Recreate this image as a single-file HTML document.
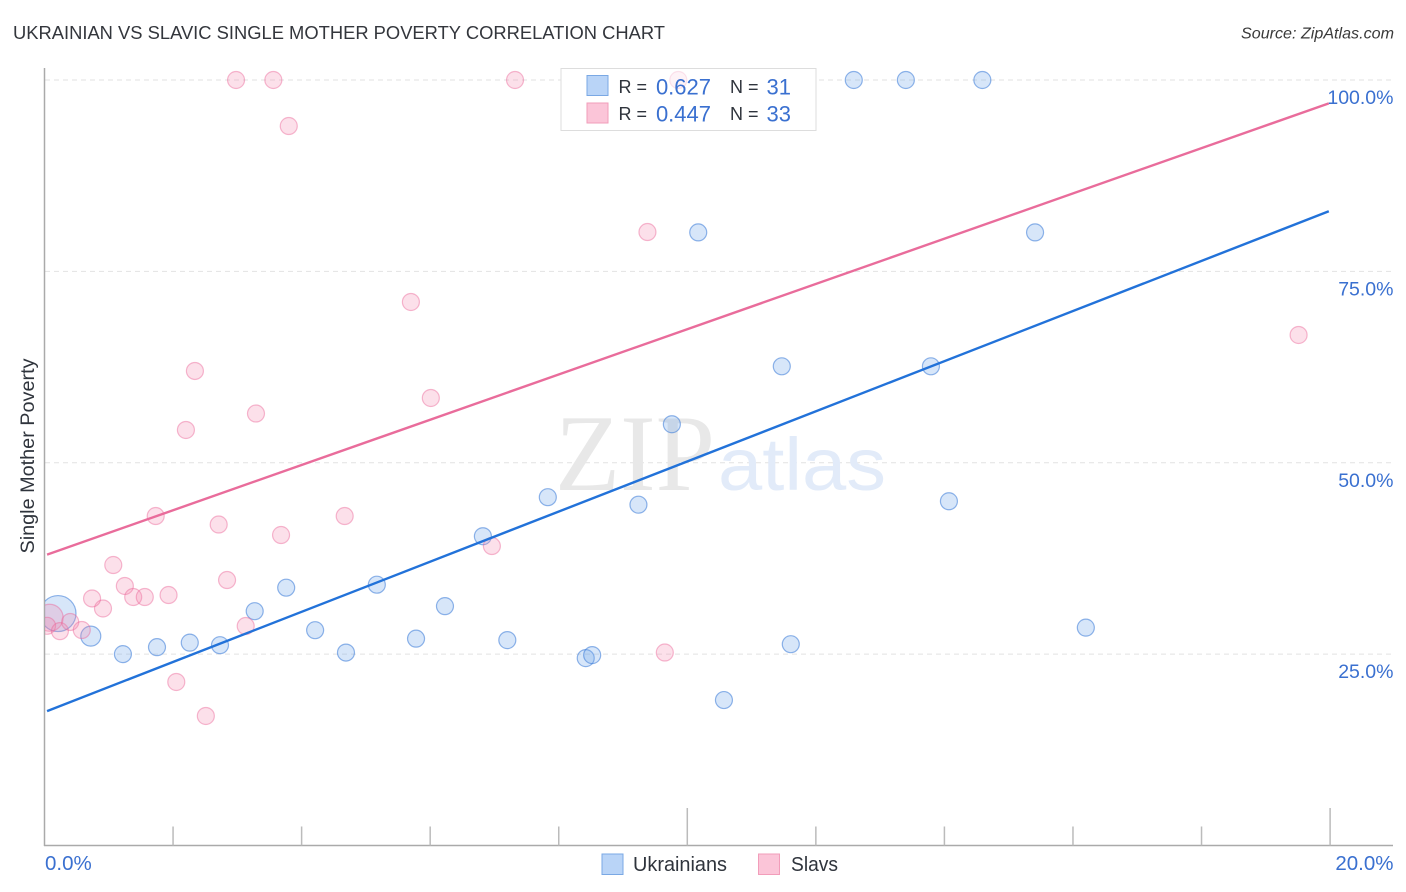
<!DOCTYPE html>
<html lang="en">
<head>
<meta charset="utf-8">
<title>Ukrainian vs Slavic Single Mother Poverty Correlation Chart</title>
<style>
html,body{margin:0;padding:0;background:#fff;width:1406px;height:892px;overflow:hidden}
svg{display:block;font-family:"Liberation Sans",sans-serif}
.blue{fill:#3a70d0}
.dark{fill:#2f343c}
</style>
</head>
<body>
<svg id="chart" width="1406" height="892" viewBox="0 0 1406 892" xmlns="http://www.w3.org/2000/svg">
  <defs>
    <clipPath id="plot-clip"><rect x="45" y="60" width="1360" height="786"/></clipPath>
  </defs>
  <rect x="0" y="0" width="1406" height="892" fill="#ffffff"/>
  <text x="13" y="39" font-size="18.5" fill="#33363c" textLength="652" lengthAdjust="spacingAndGlyphs">UKRAINIAN VS SLAVIC SINGLE MOTHER POVERTY CORRELATION CHART</text>
  <text x="1394" y="38.5" font-size="16" font-style="italic" fill="#3a3a3a" text-anchor="end" textLength="153" lengthAdjust="spacingAndGlyphs">Source: ZipAtlas.com</text>

  <g id="grid"></g>
  <rect x="561" y="68.5" width="255" height="62" fill="#ffffff"/>

  <g>
    <text x="555" y="490" font-family="'Liberation Serif',serif" font-size="109" fill="#e8e8e8" textLength="160" lengthAdjust="spacingAndGlyphs">ZIP</text>
    <text x="718" y="490" font-size="74" fill="#e2ebf9" textLength="168" lengthAdjust="spacingAndGlyphs">atlas</text>
  </g>

  <g id="axes">
    <line x1="44.5" y1="68" x2="44.5" y2="846" stroke="#aaaaaa" stroke-width="1.5"/>
    <line x1="44" y1="845.5" x2="1393" y2="845.5" stroke="#aaaaaa" stroke-width="1.5"/>
  </g>

  <g id="points" clip-path="url(#plot-clip)"></g>
  <g id="trends"></g>
  <g id="labels"></g>

  <text transform="translate(34 456) rotate(-90)" font-size="19" fill="#2f343c" text-anchor="middle" textLength="195" lengthAdjust="spacingAndGlyphs">Single Mother Poverty</text>

  <g>
    <rect x="561" y="68.5" width="255" height="62" fill="#ffffff" fill-opacity="0.6" stroke="#dddddd" stroke-width="1"/>
    <rect x="587" y="75.5" width="21" height="20" fill="#b9d4f7" stroke="#7aa8e4" stroke-width="1"/>
    <rect x="587" y="103" width="21" height="20" fill="#fbc5d8" stroke="#f29dba" stroke-width="1"/>
    <text class="dark" x="618.5" y="93" font-size="18">R =</text>
    <text class="blue" x="711" y="94.5" font-size="22" text-anchor="end">0.627</text>
    <text class="dark" x="730" y="93" font-size="18">N =</text>
    <text class="blue" x="791" y="94.5" font-size="22" text-anchor="end">31</text>
    <text class="dark" x="618.5" y="120" font-size="18">R =</text>
    <text class="blue" x="711" y="121.5" font-size="22" text-anchor="end">0.447</text>
    <text class="dark" x="730" y="120" font-size="18">N =</text>
    <text class="blue" x="791" y="121.5" font-size="22" text-anchor="end">33</text>
  </g>

  <g>
    <rect x="602" y="854" width="21" height="20.5" fill="#b9d4f7" stroke="#7aa8e4" stroke-width="1"/>
    <text class="dark" x="633" y="871" font-size="20" textLength="94" lengthAdjust="spacingAndGlyphs">Ukrainians</text>
    <rect x="758.5" y="854" width="21" height="20.5" fill="#fbc5d8" stroke="#f29dba" stroke-width="1"/>
    <text class="dark" x="791" y="871" font-size="20" textLength="47" lengthAdjust="spacingAndGlyphs">Slavs</text>
  </g>
</svg>
<script>
const yGridValues = [25, 50, 75, 100];
const yTickLabels = ["25.0%", "50.0%", "75.0%", "100.0%"];
const xTickValues = [0, 2, 4, 6, 8, 10, 12, 14, 16, 18, 20];
const xMajorTicks = [10, 20];
const xEndValues = [0, 20];
const xEndLabels = ["0.0%", "20.0%"];

const ukrainiansX = [0.21,0.72,1.22,1.75,2.26,2.73,3.27,3.76,4.21,4.69,5.17,5.78,6.23,6.82,7.20,7.83,8.42,8.52,9.24,9.76,10.17,10.57,11.47,11.61,12.59,13.40,13.79,14.07,14.59,15.41,16.20];
const ukrainiansY = [30.3,27.35,25.0,25.91,26.5,26.17,30.61,33.68,28.13,25.2,34.07,27.02,31.27,40.4,26.83,45.5,24.48,24.87,44.52,55.03,80.09,19.0,62.6,26.3,100,100,62.6,44.97,100,80.09,28.46];
const ukrainiansWeight = [18.5,10.5,9,9,9,9,9,9,9,9,9,9,9,9,9,9,9,9,9,9,9,9,9,9,9,9,9,9,9,9,9];

const slavsX = [0.08,0.04,0.24,0.40,0.58,0.91,0.74,1.07,1.25,1.38,1.56,1.93,2.84,3.13,2.05,2.51,1.73,2.71,3.68,4.67,2.20,2.34,3.29,5.70,6.01,6.96,9.38,9.65,2.98,3.56,3.80,7.32,9.86,19.51];
const slavsY = [29.75,28.7,28.0,29.2,28.15,30.96,32.27,36.64,33.9,32.46,32.46,32.72,34.68,28.67,21.36,16.92,43.04,41.93,40.56,43.04,54.28,61.99,56.43,71.0,58.46,39.12,80.14,25.21,100,100,93.99,100,100,66.69];
const slavsWeight = [14,9,9,9,9,9,9,9,9,9,9,9,9,9,9,9,9,9,9,9,9,9,9,9,9,9,9,9,9,9,9,9,9,9];

const trendX = [0.04, 19.98];
const ukrainiansTrend = [17.56, 82.85];
const slavsTrend = [38.0, 96.95];

const SVGNS = "http://www.w3.org/2000/svg";
const xScale = v => 44.5 + v * 64.28;
const yScale = v => 845.5 - v * 7.655;

function make(tag, attrs, parent) {
  const el = document.createElementNS(SVGNS, tag);
  for (const k in attrs) el.setAttribute(k, attrs[k]);
  parent.appendChild(el);
  return el;
}

const gridG = document.getElementById("grid");
yGridValues.forEach(v => {
  const el = make("line", {x1: 45, x2: 1393, y1: yScale(v), y2: yScale(v), stroke: "#e2e2e2", "stroke-width": 1, "stroke-dasharray": "5 4"}, gridG);
  
  
});

const axesG = document.getElementById("axes");
xTickValues.forEach(v => {
  if (v === 0) return;
  const top = xMajorTicks.includes(v) ? 808 : 826.5;
  const el = make("line", {x1: xScale(v), x2: xScale(v), y1: top, y2: 845.5, stroke: "#bbbbbb", "stroke-width": 1.5}, axesG);
  
  
});

const labelsG = document.getElementById("labels");
yTickLabels.forEach((t, i) => {
  const el = make("text", {x: 1393.5, y: yScale(yGridValues[i]) + 24, "font-size": 19.5, "text-anchor": "end", class: "blue"}, labelsG);
  el.textContent = t;
  
  
});
xEndLabels.forEach((t, i) => {
  const el = make("text", {x: i === 0 ? xScale(xEndValues[i]) + 0.5 : 1393.5, y: 870, "font-size": 20.5, "text-anchor": i === 0 ? "start" : "end", class: "blue"}, labelsG);
  el.textContent = t;
  
  
});

const pointsG = document.getElementById("points");
ukrainiansX.forEach((x, i) => {
  const el = make("circle", {cx: xScale(x), cy: yScale(ukrainiansY[i]), r: ukrainiansWeight[i] - 0.5, fill: "rgba(110,165,235,0.28)", stroke: "rgba(55,120,215,0.55)", "stroke-width": 1.2}, pointsG);
  
  
});
slavsX.forEach((x, i) => {
  const el = make("circle", {cx: xScale(x), cy: yScale(slavsY[i]), r: slavsWeight[i] - 0.5, fill: "rgba(245,130,170,0.25)", stroke: "rgba(235,100,150,0.45)", "stroke-width": 1.2}, pointsG);
  
  
});

const trendsG = document.getElementById("trends");
const blueLine = make("line", {x1: xScale(trendX[0]), y1: yScale(ukrainiansTrend[0]), x2: xScale(trendX[1]), y2: yScale(ukrainiansTrend[1]), stroke: "#2272d9", "stroke-width": 2.4}, trendsG);


const pinkLine = make("line", {x1: xScale(trendX[0]), y1: yScale(slavsTrend[0]), x2: xScale(trendX[1]), y2: yScale(slavsTrend[1]), stroke: "#e96c9b", "stroke-width": 2.4}, trendsG);


</script>
</body>
</html>
